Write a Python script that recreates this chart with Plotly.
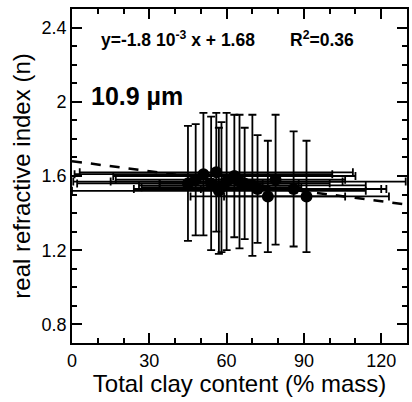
import plotly.graph_objects as go

# Data
clay = [45, 48, 51, 54, 56, 57, 58, 60, 63, 65, 67, 70, 72, 76, 79, 86, 91]
n_real = [1.56, 1.58, 1.61, 1.56, 1.62, 1.52, 1.54, 1.57, 1.60, 1.57, 1.56, 1.55, 1.53, 1.49, 1.58, 1.53, 1.49]
clay_err = [43, 31, 50, 20, 53, 57, 31, 45, 47, 64.5, 33, 44, 48, 30, 27, 36, 32]
n_err = [0.31, 0.30, 0.33, 0.36, 0.32, 0.34, 0.35, 0.37, 0.33, 0.36, 0.30, 0.38, 0.29, 0.30, 0.35, 0.31, 0.30]

fit_x = [0, 130]
slope, intercept = -1.8e-3, 1.68
fit_y = [slope * v + intercept for v in fit_x]

x_ticks = [0, 30, 60, 90, 120]
y_ticks = [0.8, 1.2, 1.6, 2.0, 2.4]
y_tick_text = ["0.8", "1.2", "1.6", "2", "2.4"]

FONT = "Liberation Sans, Arial, sans-serif"

fig = go.Figure()
fig.add_trace(go.Scatter(
    x=fit_x, y=fit_y, mode="lines",
    line=dict(color="black", width=2.5, dash="10px,9px"),
    hoverinfo="skip", showlegend=False))
fig.add_trace(go.Scatter(
    x=clay, y=n_real, mode="markers",
    marker=dict(color="black", size=12),
    error_x=dict(type="data", array=clay_err, color="black", thickness=1.8, width=4),
    error_y=dict(type="data", array=n_err, color="black", thickness=1.8, width=4),
    showlegend=False))

axis_common = dict(
    showgrid=False, zeroline=False, showline=True, linecolor="black", linewidth=1.8,
    mirror="ticks", ticks="inside", tickcolor="black", tickwidth=1.8, ticklen=10,
    tickfont=dict(family=FONT, size=18, color="black"),
)
fig.update_xaxes(
    range=[0, 130], tickvals=x_ticks,
    minor=dict(dtick=10, ticks="inside", ticklen=5, tickcolor="black", tickwidth=1.8),
    title=dict(text="Total clay content (% mass)", font=dict(family=FONT, size=24, color="black"), standoff=0),
    **axis_common)
fig.update_yaxes(
    range=[0.7, 2.5], tickvals=y_ticks, ticktext=y_tick_text,
    minor=dict(tickvals=[0.8 + 0.1 * i for i in range(17)], ticks="inside", ticklen=5,
               tickcolor="black", tickwidth=1.8),
    title=dict(text="real refractive index (n)", font=dict(family=FONT, size=24, color="black"), standoff=4),
    **axis_common)

fig.add_annotation(x=10.5, y=2.34, xref="x", yref="y", xanchor="left", yanchor="middle",
                   text="<b>y=-1.8 10<sup>-3</sup> x + 1.68</b>", showarrow=False,
                   font=dict(family=FONT, size=17.5, color="black"))
fig.add_annotation(x=84, y=2.34, xref="x", yref="y", xanchor="left", yanchor="middle",
                   text="<b>R<sup>2</sup>=0.36</b>", showarrow=False,
                   font=dict(family=FONT, size=17.5, color="black"))
fig.add_annotation(x=6.5, y=2.03, xref="x", yref="y", xanchor="left", yanchor="middle",
                   text="<b>10.9 µm</b>", showarrow=False,
                   font=dict(family=FONT, size=25, color="black"))

fig.update_layout(
    width=412, height=402,
    margin=dict(l=72, r=3, t=9, b=59),
    plot_bgcolor="white", paper_bgcolor="white",
    font=dict(family=FONT, color="black"),
)

fig.write_html("out.html")
